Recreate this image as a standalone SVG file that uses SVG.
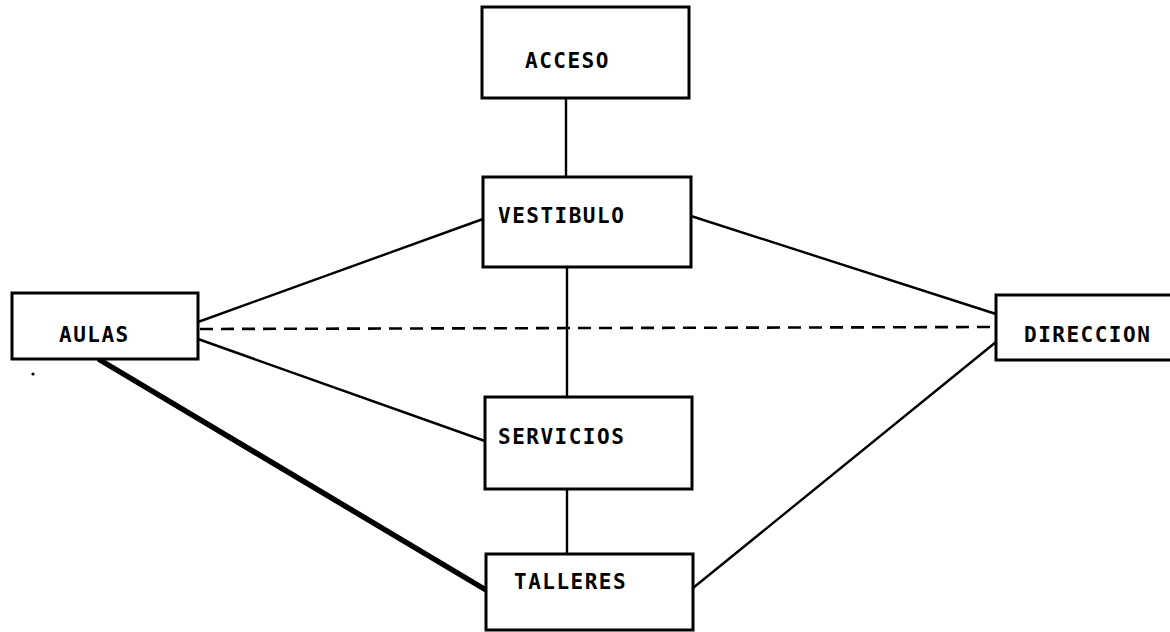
<svg xmlns="http://www.w3.org/2000/svg" width="1170" height="632" viewBox="0 0 1170 632">
<style>
.box{fill:#fff;stroke:#000;stroke-width:3}
.lbl{font-family:"DejaVu Sans Mono","Liberation Mono",monospace;font-weight:bold;font-size:21px;letter-spacing:1.5px;fill:#000}
.ln{stroke:#000;stroke-width:2.4;fill:none;stroke-linecap:round}
.thick{stroke:#000;stroke-width:5.5;fill:none;stroke-linecap:round}
.dash{stroke:#000;stroke-width:2.6;fill:none;stroke-dasharray:13 8}
</style>
<rect width="1170" height="632" fill="#fff"/>
<g id="connectors">
<line class="ln" x1="566" y1="98" x2="566" y2="177"/>
<line class="ln" x1="567" y1="267" x2="567" y2="397"/>
<line class="ln" x1="567" y1="489" x2="567" y2="554"/>
<line class="ln" x1="483" y1="219" x2="198" y2="322"/>
<line class="dash" x1="200" y1="329" x2="996" y2="327"/>
<line class="ln" x1="198" y1="339" x2="485" y2="441"/>
<line class="thick" x1="100" y1="360" x2="486" y2="590"/>
<line class="ln" x1="691" y1="216" x2="996" y2="314"/>
<line class="ln" x1="996" y1="342" x2="693" y2="588"/>
</g>
<g id="acceso">
<rect class="box" x="482" y="7" width="207" height="91"/>
<text class="lbl" x="525" y="68">ACCESO</text>
</g>
<g id="vestibulo">
<rect class="box" x="483" y="177" width="208" height="90"/>
<text class="lbl" x="498" y="223">VESTIBULO</text>
</g>
<g id="aulas">
<rect class="box" x="12" y="293" width="186" height="66"/>
<text class="lbl" x="59" y="342">AULAS</text>
</g>
<g id="direccion">
<rect class="box" x="996" y="295" width="180" height="65"/>
<text class="lbl" x="1024" y="342">DIRECCION</text>
</g>
<g id="servicios">
<rect class="box" x="485" y="397" width="207" height="92"/>
<text class="lbl" x="498" y="444">SERVICIOS</text>
</g>
<g id="talleres">
<rect class="box" x="486" y="554" width="207" height="76"/>
<text class="lbl" x="514" y="589">TALLERES</text>
</g>
<circle cx="33" cy="374" r="1.6" fill="#000"/>
</svg>
